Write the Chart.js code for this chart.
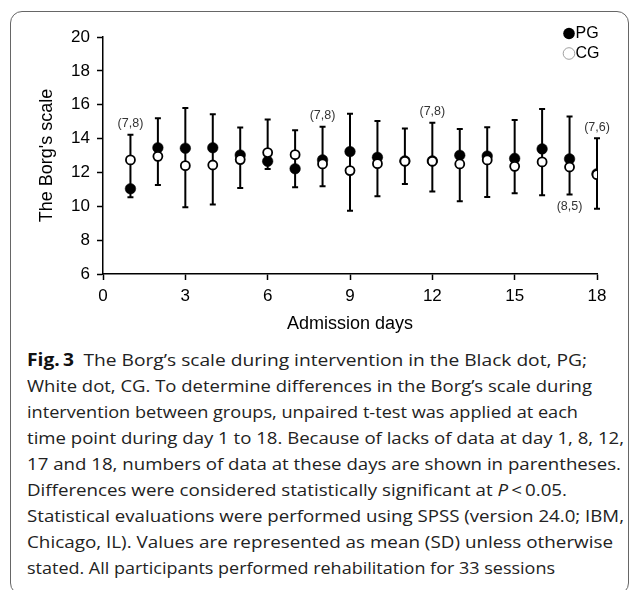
<!DOCTYPE html>
<html><head><meta charset="utf-8">
<script src="https://cdn.jsdelivr.net/npm/chart.js@4.4.0/dist/chart.umd.min.js"></script>
<style>
html,body{margin:0;padding:0;background:#fff;width:629px;height:590px;overflow:hidden;}
#frame{position:absolute;left:10px;top:11px;width:619px;height:584px;border:1px solid #666;border-radius:12px;box-sizing:border-box;}
#wrap{position:absolute;left:0;top:0;width:629px;height:345px;}
#cap{position:absolute;left:27px;top:347px;font-family:'Open Sans',sans-serif;font-size:17px;line-height:26px;color:#222;white-space:nowrap;}
#cap div{height:26px;}
#cap span{display:inline-block;transform-origin:0 0;}
#cap b{font-weight:700;color:#111;}
</style></head><body>
<div id="frame"></div>
<div id="wrap"><canvas id="c"></canvas></div>
<div id="cap">
<div><span data-end="587"><b>Fig.&thinsp;3</b>&ensp;The Borg’s scale during intervention in the Black dot, PG;</span></div>
<div><span data-end="592">White dot, CG. To determine differences in the Borg’s scale during</span></div>
<div><span data-end="578">intervention between groups, unpaired t-test was applied at each</span></div>
<div><span data-end="624">time point during day 1 to 18. Because of lacks of data at day 1, 8, 12,</span></div>
<div><span data-end="621">17 and 18, numbers of data at these days are shown in parentheses.</span></div>
<div><span data-end="567">Differences were considered statistically significant at <i>P</i>&thinsp;&lt;&thinsp;0.05.</span></div>
<div><span data-end="624">Statistical evaluations were performed using SPSS (version 24.0; IBM,</span></div>
<div><span data-end="613">Chicago, IL). Values are represented as mean (SD) unless otherwise</span></div>
<div><span data-end="555">stated. All participants performed rehabilitation for 33 sessions</span></div>
</div>
<script>
// ---- data ----
const days   = [1,2,3,4,5,6,7,8,9,10,11,12,13,14,15,16,17,18];
const pgMean = [11.04,13.46,13.43,13.46,13.03,12.66,12.22,12.74,13.23,12.89,12.68,12.68,13.01,12.97,12.83,13.39,12.80,11.92];
const pgSD   = [0.51,1.74,2.38,1.97,1.62,0.46,1.10,1.96,2.24,2.15,1.91,2.26,1.56,1.70,2.27,2.36,2.51,2.10];
const cgMean = [12.74,12.95,12.40,12.44,12.76,13.17,13.05,12.50,12.11,12.52,12.66,12.66,12.50,12.74,12.36,12.62,12.32,11.87];
const cgSD   = [1.49,1.69,2.46,2.34,1.68,1.95,1.44,1.32,2.37,1.93,1.34,1.79,2.20,2.19,1.59,1.97,1.63,2.01];
const annDays = [1,8,12,17,18];
const annText = ['(7,8)','(7,8)','(7,8)','(8,5)','(7,6)'];
const annSide = ['above','above','above','below','above'];
const xTicks = [0,3,6,9,12,15,18];
const yTicks = [6,8,10,12,14,16,18,20];
const seriesNames = ['PG','CG'];

const FONT = "'Liberation Sans', Arial, sans-serif";

function fitCaption(){
  document.querySelectorAll('#cap span').forEach(s => {
    s.style.transform = 'none';
    const w = s.getBoundingClientRect().width;
    const target = parseFloat(s.dataset.end) - 27;
    if (w > 0) s.style.transform = 'scaleX(' + (target / w) + ')';
  });
}
fitCaption();
if (document.fonts && document.fonts.ready) document.fonts.ready.then(fitCaption);

function barEnds(i){
  const hiPG = pgMean[i] >= cgMean[i];
  const top = hiPG ? pgMean[i] + pgSD[i] : cgMean[i] + cgSD[i];
  const bot = hiPG ? cgMean[i] - cgSD[i] : pgMean[i] - pgSD[i];
  return [top, bot];
}

const extras = {
  id: 'extras',
  beforeDatasetsDraw(chart){
    const {ctx, scales:{x, y}} = chart;
    ctx.save();
    ctx.strokeStyle = '#000'; ctx.lineWidth = 2;
    days.forEach((d, i) => {
      const [top, bot] = barEnds(i);
      const px = x.getPixelForValue(d);
      const yt = y.getPixelForValue(top), yb = y.getPixelForValue(bot);
      ctx.beginPath();
      ctx.moveTo(px, yt); ctx.lineTo(px, yb);
      ctx.moveTo(px - 3, yt); ctx.lineTo(px + 3, yt);
      ctx.moveTo(px - 3, yb); ctx.lineTo(px + 3, yb);
      ctx.stroke();
    });
    ctx.restore();
  },
  afterDatasetsDraw(chart){
    const {ctx, scales:{x, y}} = chart;
    ctx.save();
    ctx.font = '12.5px ' + FONT;
    ctx.fillStyle = '#333';
    ctx.textAlign = 'center'; ctx.textBaseline = 'middle';
    annDays.forEach((d, k) => {
      const i = days.indexOf(d);
      const [top, bot] = barEnds(i);
      const px = x.getPixelForValue(d);
      const py = annSide[k] === 'above' ? y.getPixelForValue(top) - 11 : y.getPixelForValue(bot) + 12;
      ctx.fillText(annText[k], px, py);
    });
    // legend
    ctx.font = '16px ' + FONT;
    ctx.textAlign = 'left';
    ctx.fillStyle = '#000';
    ctx.beginPath(); ctx.arc(569, 33.5, 5.8, 0, Math.PI*2); ctx.fill();
    ctx.fillText(seriesNames[0], 575.5, 34);
    ctx.strokeStyle = '#888'; ctx.lineWidth = 0.8;
    ctx.beginPath(); ctx.arc(569, 53.5, 5.8, 0, Math.PI*2); ctx.stroke();
    ctx.fillStyle = '#000';
    ctx.fillText(seriesNames[1], 575.5, 54);
    ctx.restore();
  }
};

new Chart(document.getElementById('c'), {
  type: 'scatter',
  data: {
    datasets: [
      { label: seriesNames[1], order: 0,
        data: days.map((d, i) => ({x: d, y: cgMean[i]})),
        pointRadius: 4.5, pointBackgroundColor: '#fff', pointBorderColor: '#000', pointBorderWidth: 1.8 },
      { label: seriesNames[0], order: 1,
        data: days.map((d, i) => ({x: d, y: pgMean[i]})),
        pointRadius: 5.3, pointBackgroundColor: '#000', pointBorderColor: '#000', pointBorderWidth: 0.5 }
    ]
  },
  options: {
    responsive: true, maintainAspectRatio: false, animation: false,
    layout: { padding: { left: 0, right: 32, top: 37, bottom: 0 } },
    plugins: { legend: { display: false }, tooltip: { enabled: false } },
    scales: {
      x: {
        type: 'linear', min: 0, max: 18,
        afterBuildTicks: s => { s.ticks = xTicks.map(v => ({value: v})); },
        afterFit: s => { s.height = 71; },
        grid: { drawOnChartArea: false, drawTicks: true, tickLength: 6, tickColor: '#000', tickWidth: 1.5 },
        border: { display: true, color: '#000', width: 1.5 },
        ticks: { color: '#000', font: { family: FONT, size: 17 }, padding: 6, maxRotation: 0 },
        title: { display: true, text: 'Admission days', color: '#000', font: { family: FONT, size: 18 }, padding: { top: 0, bottom: 10 } }
      },
      y: {
        type: 'linear', min: 6, max: 20,
        afterBuildTicks: s => { s.ticks = yTicks.map(v => ({value: v})); },
        afterFit: s => { s.width = 103; },
        grid: { drawOnChartArea: false, drawTicks: true, tickLength: 6, tickColor: '#000', tickWidth: 1.5 },
        border: { display: true, color: '#000', width: 1.5 },
        ticks: { color: '#000', font: { family: FONT, size: 17 }, padding: 7 },
        title: { display: true, text: "The Borg's scale", color: '#000', font: { family: FONT, size: 18 }, padding: { top: 36, bottom: 0 } }
      }
    }
  },
  plugins: [extras]
});
</script>
</body></html>
